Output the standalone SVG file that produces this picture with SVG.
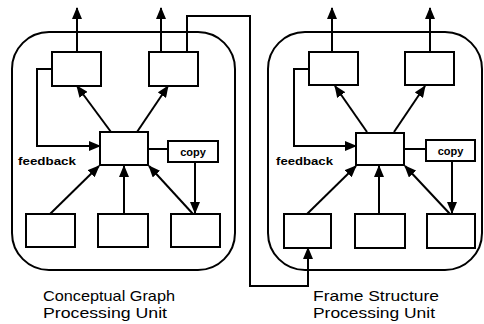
<svg xmlns="http://www.w3.org/2000/svg" width="484" height="324" viewBox="0 0 484 324">
<style>
.unit{fill:none;stroke:#000;stroke-width:2}
.box{fill:#fff;stroke:#000;stroke-width:2}
.ln{fill:none;stroke:#000;stroke-width:2}
.arr{marker-end:url(#ah)}
.lbl{font-family:"Liberation Sans",Arial,sans-serif;font-size:15px;fill:#000}
.sm{font-family:"Liberation Sans",Arial,sans-serif;font-size:11px;font-weight:bold;fill:#000}
</style>
<defs>
<marker id="ah" markerUnits="userSpaceOnUse" markerWidth="12" markerHeight="10" refX="11" refY="5" orient="auto">
<path d="M0,0 L12,5 L0,10 z" fill="#000"/>
</marker>
</defs>
<rect fill="#fff" width="484" height="324"/>
<g id="unit-cg">
<rect class="unit" x="12" y="32" width="223" height="238" rx="37"/>
<text class="lbl" x="43" y="301" textLength="132" lengthAdjust="spacingAndGlyphs">Conceptual Graph</text>
<text class="lbl" x="43" y="318" textLength="124" lengthAdjust="spacingAndGlyphs">Processing Unit</text>
</g>
<g id="unit-fs">
<rect class="unit" x="268" y="32" width="214" height="238" rx="37"/>
<text class="lbl" x="313" y="301" textLength="126" lengthAdjust="spacingAndGlyphs">Frame Structure</text>
<text class="lbl" x="313" y="318" textLength="122" lengthAdjust="spacingAndGlyphs">Processing Unit</text>
</g>
<g id="connectors">
<path class="ln arr" d="M77,52 V8"/>
<path class="ln arr" d="M161,52 V8"/>
<path class="ln arr" d="M111,132 L77,86"/>
<path class="ln arr" d="M137,132 L168,86"/>
<path class="ln arr" d="M52,69 H37 V146 H100"/>
<path class="ln" d="M148,149 H168"/>
<path class="ln arr" d="M195,162 V213"/>
<path class="ln arr" d="M193,214 L149,166"/>
<path class="ln arr" d="M50,214 L99,166"/>
<path class="ln arr" d="M124,214 V166"/>
<path class="ln arr" d="M187,52 V16 H250 V286 H308 V248"/>
<path class="ln arr" d="M332,52 V8"/>
<path class="ln arr" d="M430,52 V8"/>
<path class="ln arr" d="M367,132 L335,86"/>
<path class="ln arr" d="M394,132 L425,86"/>
<path class="ln arr" d="M309,69 H294 V146 H356"/>
<path class="ln" d="M404,149 H426"/>
<path class="ln arr" d="M452,161 V213"/>
<path class="ln arr" d="M450,214 L405,166"/>
<path class="ln arr" d="M307,214 L356,166"/>
<path class="ln arr" d="M379,214 V166"/>
</g>
<g id="cg-top-left"><rect class="box" x="52" y="52" width="49" height="34"/></g>
<g id="cg-top-right"><rect class="box" x="149" y="52" width="49" height="34"/></g>
<g id="cg-center"><rect class="box" x="100" y="132" width="48" height="33"/></g>
<g id="cg-copy"><rect class="box" x="168" y="141" width="50" height="21"/><text class="sm" x="193" y="155.5" text-anchor="middle">copy</text></g>
<g id="cg-feedback"><text class="sm" x="18" y="165" textLength="58" lengthAdjust="spacingAndGlyphs">feedback</text></g>
<g id="cg-bottom-left"><rect class="box" x="26" y="214" width="49" height="33"/></g>
<g id="cg-bottom-mid"><rect class="box" x="98" y="214" width="50" height="33"/></g>
<g id="cg-bottom-right"><rect class="box" x="171" y="214" width="49" height="33"/></g>
<g id="fs-top-left"><rect class="box" x="309" y="52" width="49" height="33"/></g>
<g id="fs-top-right"><rect class="box" x="405" y="52" width="49" height="33"/></g>
<g id="fs-center"><rect class="box" x="356" y="133" width="48" height="32"/></g>
<g id="fs-copy"><rect class="box" x="426" y="140" width="49" height="21"/><text class="sm" x="450.5" y="154.5" text-anchor="middle">copy</text></g>
<g id="fs-feedback"><text class="sm" x="276" y="165" textLength="57" lengthAdjust="spacingAndGlyphs">feedback</text></g>
<g id="fs-bottom-left"><rect class="box" x="284" y="214" width="47" height="34"/></g>
<g id="fs-bottom-mid"><rect class="box" x="355" y="214" width="50" height="34"/></g>
<g id="fs-bottom-right"><rect class="box" x="427" y="214" width="48" height="34"/></g>
</svg>
